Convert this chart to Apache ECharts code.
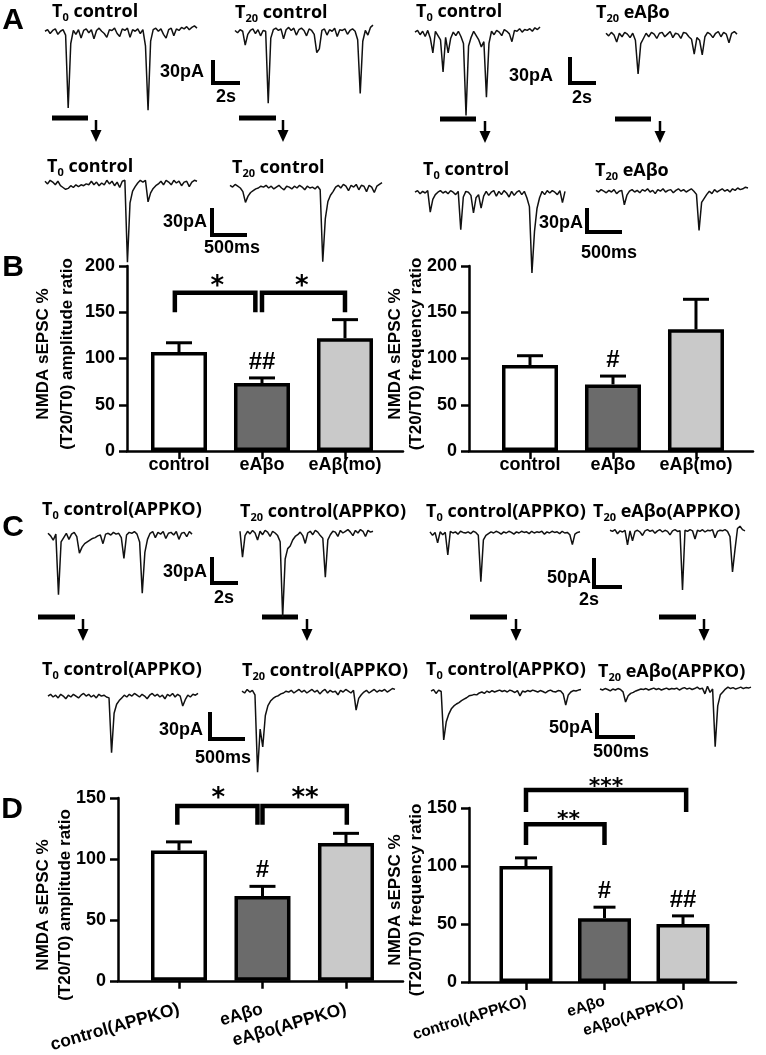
<!DOCTYPE html>
<html>
<head>
<meta charset="utf-8">
<script src="https://cdn.jsdelivr.net/npm/echarts@6/dist/echarts.min.js"></script>
<style>
html, body { margin: 0; padding: 0; background: #fff; }
#chart { width: 766px; height: 1055px; }
</style>
</head>
<body>
<div id="chart"></div>
<script>
// ---- sweep data (pA, evenly sampled across each sweep, 0 = baseline) ----
// A: wild type, 2 s sweeps (top row) and 500 ms zoom (bottom row)
const A_T0_control_long = [1,3,-2,2,4,-3,1,3,-4,-99,-15,2,-3,3,-8,2,4,-1,3,-9,2,5,1,-2,-7,3,2,5,-2,-6,4,2,5,-7,3,1,4,-2,3,-18,-102,-12,3,5,1,4,-3,-8,3,5,-5,4,2,6,4,7,3,6,8,5]
const A_T20_control_long = [2,-1,3,1,-17,-3,2,4,-2,3,-5,2,1,-93,-8,3,5,2,4,-9,3,6,2,5,-4,3,5,2,-5,4,2,-3,-27,-22,2,4,-4,3,1,5,-6,3,2,4,-3,2,4,1,-10,-80,-12,2,-4,6,9]
const A_T0_control2_long = [1,3,-2,2,-4,3,-6,-23,2,-3,-8,-45,-5,-23,-6,1,-3,2,-4,-12,-95,-15,-5,2,-3,-8,-16,-10,-74,-12,2,-2,3,1,-3,4,2,-1,-10,3,2,5,1,4,3,5,2,6,4,7]
const A_T20_eAbo_long = [2,-1,3,0,-8,2,-2,3,1,-3,2,-6,-45,-10,-4,2,-2,3,1,-4,2,3,-2,1,4,-3,2,1,-4,3,2,-2,-5,-22,-3,-6,-23,-2,3,1,-3,2,4,-2,3,1,-9,2,4,1]
const A_T0_control_zoom = [2,-1,3,1,-2,2,-3,-5,-7,-6,-3,-5,-2,-4,-2,-3,-1,-2,2,-2,1,-3,0,-2,3,-1,2,-3,1,-5,2,3,-88,-22,-9,-4,0,3,1,3,-21,-11,-6,-3,-1,2,-2,3,1,-2,3,0,2,-3,1,2,-4,1,3,2]
const A_T20_control_zoom = [3,1,4,2,0,-4,-16,-9,-5,-3,-1,0,2,1,3,0,2,-1,1,3,0,-2,2,1,-1,2,0,3,1,-2,2,0,1,-1,2,-2,-82,-34,-15,-8,-4,1,3,0,4,2,-3,3,1,4,-2,3,2,-4,3,1,-5,2,4,6]
const A_T0_control2_zoom = [1,3,-1,2,0,3,-24,-8,-2,1,3,0,2,-1,3,1,-2,2,-46,-5,2,1,-3,-25,-6,-2,-19,-4,2,-3,1,3,-4,2,-2,3,0,-5,2,-3,1,3,-2,2,-6,-17,-100,-48,-19,-6,2,-2,3,0,3,1,-2,3,-12,2]
const A_T20_eAbo_zoom = [2,0,3,1,-1,2,0,3,-2,1,2,-16,-4,1,3,0,2,-1,3,1,4,0,2,-2,3,1,4,0,2,3,-1,2,4,1,3,0,2,4,1,-3,-48,-13,-8,-3,1,-2,3,0,2,4,1,3,0,4,2,5,3,4,6,5]
// C: APP knockout
const C_T0_control_long = [2,-1,-6,1,-69,-8,-3,2,-5,1,3,-2,-21,-14,-10,-8,-6,-4,-3,-1,0,-10,1,2,0,3,1,2,-3,-27,0,3,2,4,1,-8,-67,-20,-5,2,4,-3,3,1,4,-4,2,3,0,4,-5,2,3,-2,4,1]
const C_T20_control_long = [2,-28,-3,2,-1,3,0,-8,2,-2,3,1,-4,2,0,-3,-10,-97,-30,-18,-15,-8,-4,-2,1,-3,-12,0,2,-2,3,1,-3,-6,-51,-8,-2,2,1,-4,3,0,2,4,1,-3,3,0,4,2,-4,3,1,2]
const C_T0_control2_long = [2,-4,1,-17,2,-3,1,-38,3,0,2,-2,3,1,0,2,-1,3,1,-4,-84,-12,-4,-1,2,0,3,1,-2,2,0,3,1,-2,2,0,3,1,2,-1,3,0,2,1,3,-2,2,0,3,1,2,-1,3,0,1,-3,-20,-2,1,2]
const C_T20_eAbo_long = [3,1,4,-3,2,0,3,-22,2,-15,1,3,0,-6,2,4,1,3,-2,2,4,0,3,1,-5,2,4,1,2,-100,3,1,4,2,-12,3,1,4,0,3,2,4,-10,1,3,2,4,1,-8,-69,-30,6,10,4,2]
const C_T0_control_zoom = [1,3,0,2,-1,3,1,-2,2,0,3,1,-1,2,4,1,3,0,2,-1,3,1,2,0,-1,-62,-18,-8,-4,-1,2,0,3,1,4,2,0,3,1,-2,2,4,1,3,0,2,-2,3,1,4,0,3,1,-10,-3,2,0,3,2,4]
const C_T20_control_zoom = [2,0,4,1,3,-2,-88,-40,-60,-25,-14,-9,-6,-4,-3,-1,0,2,1,3,0,2,4,1,3,0,2,4,1,3,-1,2,4,0,3,1,2,-2,3,1,4,2,0,3,-19,-6,-2,1,3,0,2,4,1,3,2,4,1,3,5,4]
const C_T0_control2_zoom = [2,5,-3,4,1,-100,-62,-46,-35,-29,-25,-22,-18,-15,-12,-8,-7,-5,-6,-2,0,-3,2,-1,3,0,2,4,1,3,0,4,2,-1,3,-8,2,0,3,1,4,2,0,3,1,-2,2,4,1,0,3,2,-4,-27,-6,0,3,2,4,5]
const C_T20_eAbo_zoom = [2,0,3,1,-2,2,0,3,1,-4,-25,-12,-7,-5,-2,0,2,1,3,0,2,4,1,3,0,2,4,1,3,2,4,0,3,5,2,4,1,3,6,2,4,-8,8,-5,2,-118,-33,-10,-4,2,6,3,5,2,4,6,3,5,4,6]

// ---- bar data (% of T0, mean and SEM) ----
const groupsB = ['control', 'eAβo', 'eAβ(mo)']
const ampB = [107, 73.5, 122]
const ampB_sem = [10, 5.5, 20]
const freqB = [93, 72, 131.5]
const freqB_sem = [10, 9, 32.5]

const groupsD = ['control(APPKO)', 'eAβo', 'eAβo(APPKO)']
const ampD = [107, 69.5, 113]
const ampD_sem = [7, 8, 8]
const freqD = [100, 55, 50]
const freqD_sem = [7, 9.5, 7]

// significance marks: [from, to, top, legEnd] and [x, y, text]
const hashB_amp = ['', '##', '']
const hashB_freq = ['', '#', '']
const hashD_amp = ['', '#', '']
const hashD_freq = ['', '#', '##']
const bracketsB_amp = [[0.95, 1.92, 171, 150], [2.0, 3.0, 171, 150]]
const starsB_amp = [[1.46, 183, '*'], [2.48, 183, '*']]
const bracketsD_amp = [[0.98, 1.94, 143.5, 128], [2.0, 3.01, 143.5, 128]]
const starsD_amp = [[1.47, 154, '*'], [2.51, 154, '**']]
const bracketsD_freq = [[1.0, 3.04, 165.5, 146.5], [1.0, 2.0, 136, 118]]
const starsD_freq = [[2.02, 172, '***'], [1.54, 144, '**']]

const barColors = ['#ffffff', '#6b6b6b', '#c9c9c9']

// ---- layout ----
const AXIS_FONT = '"Liberation Sans", Arial, sans-serif'
const TITLE_FONT = '"Open Sans", sans-serif'

// sweep boxes: x0..x1, baseline y, px per pA (from scale bars)
const traceLayout = [
  { data: A_T0_control_long, x0: 45, x1: 197, base: 32, k: 0.767 },
  { data: A_T20_control_long, x0: 235, x1: 373, base: 32, k: 0.767 },
  { data: A_T0_control2_long, x0: 415, x1: 540, base: 33, k: 0.867 },
  { data: A_T20_eAbo_long, x0: 606, x1: 737, base: 35, k: 0.867 },
  { data: A_T0_control_zoom, x0: 45, x1: 197, base: 183, k: 0.9 },
  { data: A_T20_control_zoom, x0: 230, x1: 382, base: 188, k: 0.9 },
  { data: A_T0_control2_zoom, x0: 415, x1: 565, base: 193, k: 0.8 },
  { data: A_T20_eAbo_zoom, x0: 596, x1: 748, base: 192, k: 0.8 },
  { data: C_T0_control_long, x0: 48, x1: 192, base: 535, k: 0.867 },
  { data: C_T20_control_long, x0: 240, x1: 373, base: 533, k: 0.867 },
  { data: C_T0_control2_long, x0: 430, x1: 580, base: 533, k: 0.58 },
  { data: C_T20_eAbo_long, x0: 610, x1: 745, base: 532, k: 0.58 },
  { data: C_T0_control_zoom, x0: 48, x1: 198, base: 697, k: 0.9 },
  { data: C_T20_control_zoom, x0: 242, x1: 395, base: 693, k: 0.9 },
  { data: C_T0_control2_zoom, x0: 431, x1: 581, base: 692, k: 0.48 },
  { data: C_T20_eAbo_zoom, x0: 600, x1: 751, base: 690, k: 0.48 }
]

const barPanels = [
  { names: groupsB, mean: ampB, sem: ampB_sem, hash: hashB_amp, brackets: bracketsB_amp, stars: starsB_amp,
    left: 127, top: 266, width: 276, height: 185, xmin: 0.3735, xmax: 3.699, ymax: 200,
    barWidth: 56, cap: 26, rotate: 0, labelSize: 18, labelMargin: 5, starSize: 26 },
  { names: groupsB, mean: freqB, sem: freqB_sem, hash: hashB_freq, brackets: [], stars: [],
    left: 469, top: 266, width: 284, height: 185, xmin: 0.265, xmax: 3.687, ymax: 200,
    barWidth: 56, cap: 26, rotate: 0, labelSize: 18, labelMargin: 5, starSize: 26 },
  { names: groupsD, mean: ampD, sem: ampD_sem, hash: hashD_amp, brackets: bracketsD_amp, stars: starsD_amp,
    left: 118, top: 798, width: 285, height: 184, xmin: 0.2695, xmax: 3.683, ymax: 150,
    barWidth: 56, cap: 26, rotate: 16, labelSize: 17.5, labelMargin: 28, starSize: 26 },
  { names: groupsD, mean: freqD, sem: freqD_sem, hash: hashD_freq, brackets: bracketsD_freq, stars: starsD_freq,
    left: 469, top: 808, width: 267, height: 174, xmin: 0.274, xmax: 3.675, ymax: 150,
    barWidth: 53, cap: 22, rotate: 17, labelSize: 15.5, labelMargin: 19, starSize: 22 }
]

const grid = []
const xAxis = []
const yAxis = []
const series = []

const labelOnly = { color: 'rgba(0,0,0,0)', opacity: 1 }

/* 1. sweeps */
traceLayout.forEach(t => {
  const i = grid.length
  grid.push({ left: t.x0, top: t.base - 20 * t.k, width: t.x1 - t.x0, height: 220 * t.k })
  xAxis.push({ gridIndex: i, type: 'value', min: 0, max: t.data.length - 1, show: false })
  yAxis.push({ gridIndex: i, type: 'value', min: -200, max: 20, show: false })
  series.push({
    type: 'line',
    xAxisIndex: i,
    yAxisIndex: i,
    data: t.data.map((v, j) => [j, v]),
    showSymbol: false,
    silent: true,
    lineStyle: { width: 1.5, color: '#111' }
  })
})

/* 2. bar panels */
barPanels.forEach(p => {
  const i = grid.length
  grid.push({ left: p.left, top: p.top, width: p.width, height: p.height })
  xAxis.push({
    gridIndex: i,
    type: 'value',
    min: p.xmin,
    max: p.xmax,
    splitLine: { show: false },
    axisLine: { lineStyle: { color: '#000', width: 2.5 } },
    axisTick: { customValues: [1, 2, 3], length: 8, lineStyle: { color: '#000', width: 2.5 } },
    axisLabel: {
      customValues: [1, 2, 3],
      formatter: v => p.names[Math.round(v) - 1],
      rotate: p.rotate,
      margin: p.labelMargin,
      color: '#000',
      fontSize: p.labelSize,
      fontWeight: 'bold',
      fontFamily: AXIS_FONT
    }
  })
  yAxis.push({
    gridIndex: i,
    type: 'value',
    min: 0,
    max: p.ymax,
    interval: 50,
    splitLine: { show: false },
    axisLine: { show: true, lineStyle: { color: '#000', width: 2.5 } },
    axisTick: { show: true, length: 8, lineStyle: { color: '#000', width: 2.5 } },
    axisLabel: { margin: 12, color: '#000', fontSize: 18, fontWeight: 'bold', fontFamily: AXIS_FONT }
  })

  series.push({
    type: 'bar',
    xAxisIndex: i,
    yAxisIndex: i,
    barWidth: p.barWidth,
    z: 3,
    data: p.mean.map((m, j) => ({ value: [j + 1, m], itemStyle: { color: barColors[j] } })),
    itemStyle: { borderColor: '#000', borderWidth: 3.5 }
  })

  // SEM, upward only
  series.push({
    type: 'custom',
    xAxisIndex: i,
    yAxisIndex: i,
    z: 2,
    data: p.mean.map((m, j) => [j + 1, m, m + p.sem[j]]),
    renderItem: (params, api) => {
      const a = api.coord([api.value(0), api.value(1)])
      const b = api.coord([api.value(0), api.value(2)])
      const st = { stroke: '#000', lineWidth: 3 }
      return {
        type: 'group',
        children: [
          { type: 'line', shape: { x1: a[0], y1: a[1], x2: b[0], y2: b[1] }, style: st },
          { type: 'line', shape: { x1: b[0] - p.cap / 2, y1: b[1], x2: b[0] + p.cap / 2, y2: b[1] }, style: st }
        ]
      }
    }
  })

  // # marks over the error bars
  series.push({
    type: 'scatter',
    xAxisIndex: i,
    yAxisIndex: i,
    clip: false,
    symbolSize: 1,
    z: 5,
    itemStyle: labelOnly,
    data: p.mean.map((m, j) => ({ value: [j + 1, m + p.sem[j]], name: p.hash[j] })).filter(d => d.name),
    label: {
      show: true,
      position: 'top',
      distance: 3,
      formatter: d => d.name,
      color: '#000',
      opacity: 1,
      fontSize: 24,
      fontWeight: 'bold',
      fontFamily: AXIS_FONT
    }
  })

  // brackets
  p.brackets.forEach(b => {
    series.push({
      type: 'line',
      xAxisIndex: i,
      yAxisIndex: i,
      clip: false,
      showSymbol: false,
      silent: true,
      z: 4,
      data: [[b[0], b[3]], [b[0], b[2]], [b[1], b[2]], [b[1], b[3]]],
      lineStyle: { color: '#000', width: 4.5, join: 'miter', cap: 'butt' }
    })
  })

  if (p.stars.length) {
    series.push({
      type: 'scatter',
      xAxisIndex: i,
      yAxisIndex: i,
      clip: false,
      symbolSize: 1,
      z: 5,
      itemStyle: labelOnly,
      data: p.stars.map(s => ({ value: [s[0], s[1]], name: s[2] })),
      label: {
        show: true,
        position: 'inside',
        offset: [0, p.starSize * 0.22],
        formatter: d => d.name,
        color: '#000',
        opacity: 1,
        fontSize: p.starSize,
        fontWeight: 'bold',
        fontFamily: '"DejaVu Sans", sans-serif'
      }
    })
  }
})

/* 3. labels, scale bars, window markers */
const g = []

const letter = (s, x, y) =>
  g.push({ type: 'text', x, y, style: { text: s, font: 'bold 30px ' + AXIS_FONT, fill: '#000', align: 'center', verticalAlign: 'middle' } })
letter('A', 13, 21)
letter('B', 13, 268)
letter('C', 13, 528)
letter('D', 12, 810)

const sweepTitles = [
  [52, 12, '0', ' control'], [235, 13, '20', ' control'], [416, 12, '0', ' control'], [596, 13, '20', ' eAβo'],
  [47, 167, '0', ' control'], [232, 168, '20', ' control'], [423, 170, '0', ' control'], [595, 171, '20', ' eAβo'],
  [42, 510, '0', ' control(APPKO)'], [240, 512, '20', ' control(APPKO)'], [426, 512, '0', ' control(APPKO)'], [593, 512, '20', ' eAβo(APPKO)'],
  [42, 670, '0', ' control(APPKO)'], [242, 671, '20', ' control(APPKO)'], [426, 670, '0', ' control(APPKO)'], [598, 672, '20', ' eAβo(APPKO)']
]
sweepTitles.forEach(([x, y, sub, rest]) => {
  g.push({
    type: 'text',
    x,
    y,
    style: {
      text: `{t|T}{s|${sub}}{t|${rest}}`,
      verticalAlign: 'middle',
      rich: {
        t: { fontSize: 18, fontWeight: 'bold', fontFamily: TITLE_FONT, fill: '#000', lineHeight: 22 },
        s: { fontSize: 11, fontWeight: 'bold', fontFamily: TITLE_FONT, fill: '#000', lineHeight: 22, verticalAlign: 'bottom' }
      }
    }
  })
})

// scale bars: corner L, amplitude label, time label
const scaleBars = [
  { pts: [[213, 60], [213, 83], [240, 83]], amp: '30pA', ax: 204, ay: 72, time: '2s', tx: 226, ty: 97 },
  { pts: [[570, 57], [570, 83], [596, 83]], amp: '30pA', ax: 553, ay: 76, time: '2s', tx: 582, ty: 98 },
  { pts: [[212, 208], [212, 235], [247, 235]], amp: '30pA', ax: 207, ay: 222, time: '500ms', tx: 232, ty: 248 },
  { pts: [[587, 208], [587, 232], [622, 232]], amp: '30pA', ax: 583, ay: 223, time: '500ms', tx: 609, ty: 253 },
  { pts: [[212, 557], [212, 583], [238, 583]], amp: '30pA', ax: 207, ay: 572, time: '2s', tx: 224, ty: 598 },
  { pts: [[594, 558], [594, 587], [622, 587]], amp: '50pA', ax: 591, ay: 578, time: '2s', tx: 589, ty: 600 },
  { pts: [[210, 712], [210, 739], [245, 739]], amp: '30pA', ax: 203, ay: 730, time: '500ms', tx: 223, ty: 758 },
  { pts: [[597, 713], [597, 737], [635, 737]], amp: '50pA', ax: 593, ay: 728, time: '500ms', tx: 621, ty: 752 }
]
scaleBars.forEach(s => {
  g.push({ type: 'polyline', shape: { points: s.pts }, style: { stroke: '#000', lineWidth: 4, fill: null, lineJoin: 'miter' } })
  g.push({ type: 'text', x: s.ax, y: s.ay, style: { text: s.amp, font: 'bold 18px ' + AXIS_FONT, fill: '#000', align: 'right', verticalAlign: 'middle' } })
  g.push({ type: 'text', x: s.tx, y: s.ty, style: { text: s.time, font: 'bold 18px ' + AXIS_FONT, fill: '#000', align: 'center', verticalAlign: 'middle' } })
})

// zoom window marker and arrow under each long sweep
const markers = [
  [52, 88, 96, 118], [239, 276, 283, 118], [440, 476, 485, 119], [615, 651, 660, 119],
  [38, 75, 83, 617], [262, 298, 307, 617], [470, 507, 516, 617], [659, 696, 704, 617]
]
markers.forEach(([a, b, ax, y]) => {
  g.push({ type: 'rect', shape: { x: a, y: y - 2.5, width: b - a, height: 5 }, style: { fill: '#000' } })
  g.push({ type: 'line', shape: { x1: ax, y1: y + 2, x2: ax, y2: y + 14 }, style: { stroke: '#000', lineWidth: 2.5 } })
  g.push({ type: 'polygon', shape: { points: [[ax - 5.5, y + 12], [ax + 5.5, y + 12], [ax, y + 24]] }, style: { fill: '#000' } })
})

// y axis titles
const yTitles = [
  [55, 354, 'NMDA sEPSC %\n(T20/T0) amplitude ratio', 24],
  [406, 354, 'NMDA sEPSC %\n(T20/T0) frequency ratio', 21],
  [54, 905, 'NMDA sEPSC %\n(T20/T0) amplitude ratio', 22],
  [406, 900, 'NMDA sEPSC %\n(T20/T0) frequency ratio', 21]
]
yTitles.forEach(([x, y, text, lh]) => {
  g.push({
    type: 'text',
    x,
    y,
    rotation: Math.PI / 2,
    style: { text, font: 'bold 17px ' + AXIS_FONT, fill: '#000', align: 'center', verticalAlign: 'middle', lineHeight: lh }
  })
})

const chart = echarts.init(document.getElementById('chart'))
chart.setOption({
  backgroundColor: '#fff',
  animation: false,
  grid,
  xAxis,
  yAxis,
  series,
  graphic: { elements: g }
})
</script>
</body>
</html>
